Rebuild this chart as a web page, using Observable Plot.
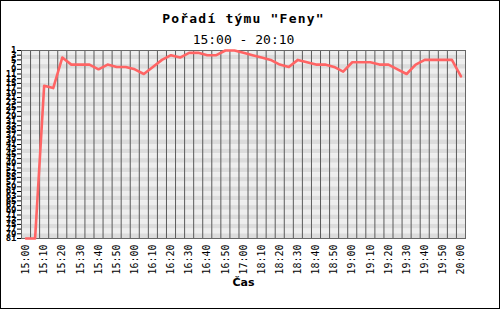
<!DOCTYPE html>
<html>
<head>
<meta charset="utf-8">
<script src="https://cdn.jsdelivr.net/npm/d3@7"></script>
<script src="https://cdn.jsdelivr.net/npm/@observablehq/plot@0.6"></script>
<style>
  html, body { margin: 0; padding: 0; background: #fff; }
</style>
</head>
<body>
<div id="chart"></div>
<script>
const title = "Pořadí týmu \"Feny\"";
const subtitle = "15:00 - 20:10";
const xLabel = "Čas";

const times = [
  "15:00","15:05","15:10","15:15","15:20","15:25","15:30","15:35","15:40","15:45",
  "15:50","15:55","16:00","16:05","16:10","16:15","16:20","16:25","16:30","16:35",
  "16:40","16:45","16:50","16:55","17:00","18:05","18:10","18:15","18:20","18:25",
  "18:30","18:35","18:40","18:45","18:50","18:55","19:00","19:05","19:10","19:15",
  "19:20","19:25","19:30","19:35","19:40","19:45","19:50","19:55","20:00"
];

const rank = [
  81,81,16,17,4,7,7,7,9,7,
  8,8,9,11,8,5,3,4,2,2,
  3,3,1,1,2,3,4,5,7,8,
  5,6,7,7,8,10,6,6,6,7,
  7,9,11,7,5,5,5,5,12
];

const rankMin = 1;
const rankMax = 81;
const yTicks = d3.range(rankMin, rankMax + 1, 2);
const xTickIdx = d3.range(0, times.length, 2);

const data = times.map((t, i) => ({i, t, r: rank[i]}));
const stripes = yTicks.slice(0, -1).map((v, k) => ({y1: v, y2: yTicks[k + 1], k}));
const bounds = d3.range(1, times.length).map(i => i - 0.5);

const chart = Plot.plot({
  width: 500,
  height: 309,
  marginTop: 50,
  marginLeft: 21,
  marginRight: 35,
  marginBottom: 71,
  style: {background: "#fff", outline: "1px solid #000", outlineOffset: "-1px", overflow: "visible"},
  x: {domain: [-0.5, times.length - 0.5]},
  y: {domain: [rankMin, rankMax], reverse: true},
  marks: [
    Plot.rect(stripes, {y1: "y1", y2: "y2", fill: d => d.k % 2 ? "#dcdcdc" : "#eeeeee"}),
    Plot.ruleX(bounds, {stroke: "#5a5a5a", strokeWidth: 1}),
    Plot.frame({stroke: "#666"}),
    Plot.line(data, {x: "i", y: "r", stroke: "#ff6464", strokeWidth: 2.6}),
    Plot.axisY({ticks: yTicks, tickSize: 4, tickPadding: 1, fontSize: 9, fontWeight: "bold",
      fontFamily: "DejaVu Sans Mono", fill: "#000", label: null, tickFormat: d => String(d)}),
    Plot.axisX({ticks: xTickIdx, tickFormat: i => times[i], tickRotate: -90, tickSize: 0,
      tickPadding: 6, fontSize: 10, fontFamily: "DejaVu Sans Mono", fill: "#000", label: null}),
    Plot.text([title], {frameAnchor: "top", dy: -37, fontSize: 13, fontWeight: "bold",
      fontFamily: "DejaVu Sans Mono", fill: "#000"}),
    Plot.text([subtitle], {frameAnchor: "top", dy: -16, fontSize: 13,
      fontFamily: "DejaVu Sans Mono", fill: "#000"}),
    Plot.text([xLabel], {frameAnchor: "bottom", dy: 47, fontSize: 11, fontWeight: "bold",
      fontFamily: "DejaVu Sans", fill: "#000"})
  ]
});

d3.select(chart).selectAll("text")
  .filter(function() { return this.textContent === title; })
  .attr("letter-spacing", 1.2);

document.getElementById("chart").appendChild(chart);
</script>
</body>
</html>
